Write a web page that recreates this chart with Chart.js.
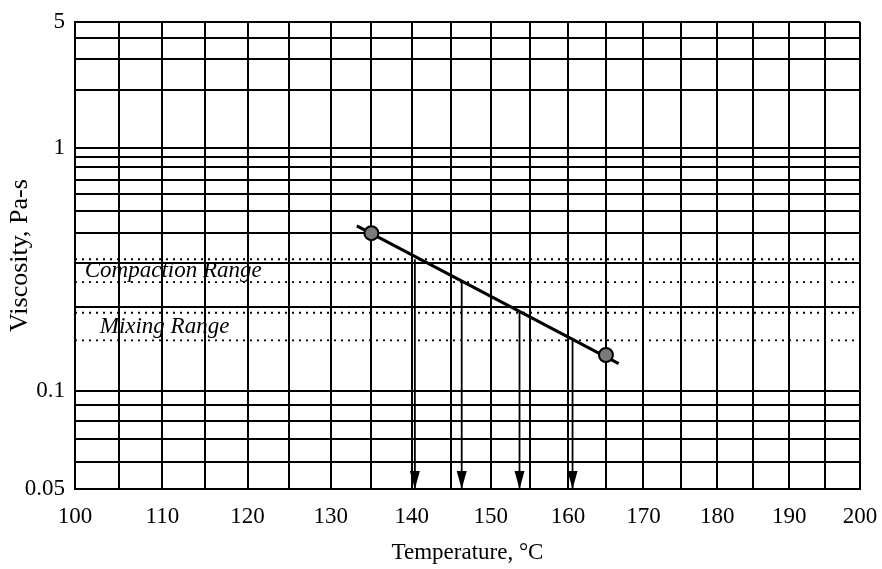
<!DOCTYPE html>
<html>
<head>
<meta charset="utf-8">
<script src="https://cdn.jsdelivr.net/npm/chart.js@4.4.1/dist/chart.umd.min.js"></script>
<style>
  html, body { margin: 0; padding: 0; background: #fff; }
  #wrap { width: 882px; height: 569px; }
</style>
</head>
<body>
<div id="wrap"><canvas id="myChart"></canvas></div>
<script>
// viscosity vs temperature chart: log-log viscosity against log absolute temperature

var xTicks = [100, 105, 110, 115, 120, 125, 130, 135, 140, 145, 150,
              155, 160, 165, 170, 175, 180, 185, 190, 195, 200];
var xLabelled = [100, 110, 120, 130, 140, 150, 160, 170, 180, 190, 200];
var yTicks = [0.05, 0.06, 0.07, 0.08, 0.09, 0.1, 0.2, 0.3, 0.4, 0.5,
              0.6, 0.7, 0.8, 0.9, 1, 2, 3, 4, 5];
var yLabelled = [0.05, 0.1, 1, 5];

// measured points
var testTemps = [135, 165];
var testVisc = [0.40, 0.133];

// fitted line ends
var lineTemps = [133.2, 166.7];
var lineVisc = [0.43, 0.124];

// ranges
var rangeNames = ['Compaction Range', 'Mixing Range'];
var rangeHigh = [0.31, 0.19];
var rangeLow = [0.25, 0.15];
var rangeLabelTemps = [101.1, 102.8];

// arrows down to the temperature axis
var arrowTemps = [140.4, 146.3, 153.7, 160.6];
var arrowVisc = [0.31, 0.25, 0.19, 0.15];

var serif = "'Liberation Serif', 'Times New Roman', serif";
Chart.defaults.font.family = serif;
Chart.defaults.color = '#000';

class TransformScale extends Chart.Scale {
  determineDataLimits() {
    this.min = this.options.min;
    this.max = this.options.max;
  }
  buildTicks() {
    return this.tickValues().map(function (v) { return { value: v }; });
  }
  configure() {
    super.configure();
    this._u0 = this.fwd(this.min);
    this._u1 = this.fwd(this.max);
  }
  getLabelForValue(v) { return String(v); }
  getPixelForValue(v) {
    return this.getPixelForDecimal((this.fwd(v) - this._u0) / (this._u1 - this._u0));
  }
  getValueForPixel(p) {
    return this.inv(this._u0 + this.getDecimalForPixel(p) * (this._u1 - this._u0));
  }
}

class AbsTempScale extends TransformScale {
  fwd(t) { return Math.log10(t + 273.15); }
  inv(u) { return Math.pow(10, u) - 273.15; }
  tickValues() { return xTicks; }
}
AbsTempScale.id = 'absTemp';
AbsTempScale.defaults = {};

class LogLogScale extends TransformScale {
  fwd(v) { return Math.log10(Math.log10(v * 1000)); }
  inv(u) { return Math.pow(10, Math.pow(10, u)) / 1000; }
  tickValues() { return yTicks; }
}
LogLogScale.id = 'logLogVisc';
LogLogScale.defaults = {};

Chart.register(AbsTempScale, LogLogScale);

var datasets = [];
datasets.push({
  data: testTemps.map(function (t, i) { return { x: t, y: testVisc[i] }; }),
  showLine: false,
  pointRadius: 7,
  pointBackgroundColor: '#7a7a7a',
  pointBorderColor: '#000',
  pointBorderWidth: 2,
  order: 0
});
datasets.push({
  data: lineTemps.map(function (t, i) { return { x: t, y: lineVisc[i] }; }),
  showLine: true,
  borderColor: '#000',
  borderWidth: 3,
  pointRadius: 0,
  order: 1
});
arrowTemps.forEach(function (t, i) {
  datasets.push({
    data: [{ x: t, y: arrowVisc[i] }, { x: t, y: yTicks[0] }],
    showLine: true,
    borderColor: '#000',
    borderWidth: 1.8,
    pointRadius: 0,
    arrow: true,
    order: 2
  });
});
rangeHigh.concat(rangeLow).forEach(function (v) {
  datasets.push({
    data: [{ x: xTicks[0], y: v }, { x: xTicks[xTicks.length - 1], y: v }],
    showLine: true,
    borderColor: '#000',
    borderWidth: 1.8,
    borderDash: [2, 5],
    pointRadius: 0,
    order: 3
  });
});

var arrowHeads = {
  id: 'arrowHeads',
  afterDatasetsDraw: function (chart) {
    var ctx = chart.ctx;
    chart.data.datasets.forEach(function (ds, i) {
      if (!ds.arrow) return;
      var pts = chart.getDatasetMeta(i).data;
      var tip = pts[pts.length - 1];
      ctx.save();
      ctx.fillStyle = '#000';
      ctx.beginPath();
      ctx.moveTo(tip.x, tip.y);
      ctx.lineTo(tip.x - 5, tip.y - 18);
      ctx.lineTo(tip.x + 5, tip.y - 18);
      ctx.closePath();
      ctx.fill();
      ctx.restore();
    });
  }
};

var rangeLabels = {
  id: 'rangeLabels',
  afterDatasetsDraw: function (chart) {
    var xs = chart.scales.x, ys = chart.scales.y, ctx = chart.ctx;
    ctx.save();
    ctx.font = 'italic 23px ' + serif;
    ctx.fillStyle = '#000';
    ctx.textBaseline = 'middle';
    ctx.textAlign = 'left';
    rangeNames.forEach(function (name, i) {
      var py = (ys.getPixelForValue(rangeHigh[i]) + ys.getPixelForValue(rangeLow[i])) / 2;
      ctx.fillText(name, xs.getPixelForValue(rangeLabelTemps[i]), py);
    });
    ctx.restore();
  }
};

var ctx = document.getElementById('myChart');

var myChart = new Chart(ctx, {
  type: 'scatter',
  data: { datasets: datasets },
  options: {
    responsive: true,
    maintainAspectRatio: false,
    animation: false,
    layout: { padding: { top: 22, right: 22, left: 0, bottom: 0 } },
    plugins: {
      legend: { display: false },
      tooltip: { enabled: false }
    },
    scales: {
      x: {
        type: 'absTemp',
        position: 'bottom',
        min: 100,
        max: 200,
        afterFit: function (s) { s.height = 80; s.paddingLeft = 0; s.paddingRight = 0; },
        grid: { color: '#000', lineWidth: 2, drawTicks: false },
        border: { color: '#000', width: 2 },
        ticks: {
          autoSkip: false,
          maxRotation: 0,
          padding: 14,
          font: { size: 23 },
          callback: function (v) { return xLabelled.indexOf(v) >= 0 ? String(v) : ''; }
        },
        title: {
          display: true,
          text: 'Temperature, °C',
          font: { size: 23 },
          padding: { top: 0, bottom: 2 }
        }
      },
      y: {
        type: 'logLogVisc',
        position: 'left',
        min: 0.05,
        max: 5,
        afterFit: function (s) { s.width = 75; s.paddingTop = 0; s.paddingBottom = 0; },
        grid: { color: '#000', lineWidth: 2, drawTicks: false },
        border: { color: '#000', width: 2 },
        ticks: {
          autoSkip: false,
          padding: 10,
          font: { size: 23 },
          callback: function (v) { return yLabelled.indexOf(v) >= 0 ? String(v) : ''; }
        },
        title: {
          display: true,
          text: 'Viscosity, Pa-s',
          font: { size: 26 },
          padding: { top: 5, bottom: 0 }
        }
      }
    }
  },
  plugins: [arrowHeads, rangeLabels]
});
</script>
</body>
</html>
